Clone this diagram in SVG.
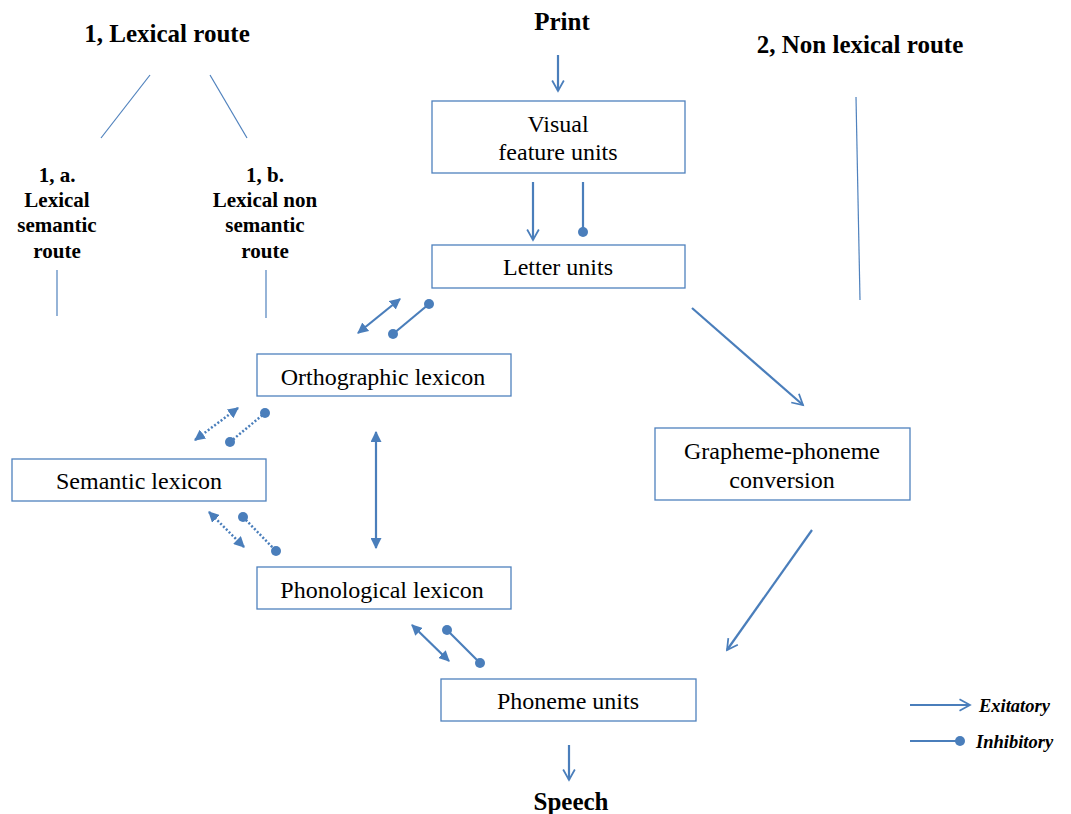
<svg xmlns="http://www.w3.org/2000/svg" width="1071" height="814" viewBox="0 0 1071 814" font-family="'Times New Roman', 'Liberation Serif', 'DejaVu Serif', serif">
<style>
text{font-family:'Times New Roman','Liberation Serif','DejaVu Serif',serif}
.box{fill:#fff;stroke:#4F81BD;stroke-width:1.3}
.t{font-size:24px;fill:#000;text-anchor:middle}
.h{font-size:25px;font-weight:bold;fill:#000;text-anchor:middle}
.s{font-size:21px;font-weight:bold;fill:#000;text-anchor:middle}
.lg{font-size:18.5px;font-weight:bold;font-style:italic;fill:#000}
.thin{stroke:#4F81BD;stroke-width:1.2;fill:none}
.c{stroke:#4A7EBB;stroke-width:2.2;fill:none}
.d{stroke:#4A7EBB;stroke-width:2.5;fill:none;stroke-dasharray:2 2}
.dot{fill:#4A7EBB}
</style>
<defs>
<marker id="big" viewBox="0 0 12 12" refX="10" refY="6" markerWidth="14" markerHeight="14" markerUnits="userSpaceOnUse" orient="auto-start-reverse">
<path d="M1,1 L10,6 L1,11" fill="none" stroke="#4A7EBB" stroke-width="1.5"/>
</marker>
<marker id="tri" viewBox="0 0 10 10" refX="9" refY="5" markerWidth="11" markerHeight="11" markerUnits="userSpaceOnUse" orient="auto-start-reverse">
<path d="M0,0 L10,5 L0,10 Z" fill="#4A7EBB"/>
</marker>
</defs>

<g id="labels">
<text class="h" x="167" y="42">1, Lexical route</text>
<text class="h" x="562" y="30">Print</text>
<text class="h" x="860" y="53">2, Non lexical route</text>
<text class="s" x="57" y="182">1, a.</text>
<text class="s" x="57" y="207">Lexical</text>
<text class="s" x="57" y="232">semantic</text>
<text class="s" x="57" y="258">route</text>
<text class="s" x="265" y="182">1, b.</text>
<text class="s" x="265" y="207">Lexical non</text>
<text class="s" x="265" y="232">semantic</text>
<text class="s" x="265" y="258">route</text>
<text class="h" x="571" y="810">Speech</text>
</g>

<g id="visual"><rect class="box" x="432" y="101" width="253" height="72"/><text class="t" x="558" y="132">Visual</text><text class="t" x="558" y="160">feature units</text></g>
<g id="letter"><rect class="box" x="432" y="245" width="253" height="43"/><text class="t" x="558" y="275">Letter units</text></g>
<g id="ortho"><rect class="box" x="257" y="354" width="254" height="42"/><text class="t" x="383" y="385">Orthographic lexicon</text></g>
<g id="semantic"><rect class="box" x="12" y="459" width="254" height="42"/><text class="t" x="139" y="489">Semantic lexicon</text></g>
<g id="phono"><rect class="box" x="257" y="567" width="254" height="42"/><text class="t" x="382" y="598">Phonological lexicon</text></g>
<g id="gpc"><rect class="box" x="655" y="428" width="255" height="72"/><text class="t" x="782" y="459">Grapheme-phoneme</text><text class="t" x="782" y="488">conversion</text></g>
<g id="phoneme"><rect class="box" x="441" y="679" width="255" height="42"/><text class="t" x="568" y="709">Phoneme units</text></g>

<g id="connectors">
<line class="thin" x1="150" y1="75" x2="101" y2="138"/>
<line class="thin" x1="210" y1="75" x2="247" y2="138"/>
<line class="thin" x1="57" y1="270" x2="57" y2="316"/>
<line class="thin" x1="266" y1="270" x2="266" y2="318"/>
<line class="thin" x1="856" y1="97" x2="860" y2="300"/>

<line class="c" x1="558" y1="55" x2="558" y2="91" marker-end="url(#big)"/>
<line class="c" x1="533" y1="182" x2="533" y2="240" marker-end="url(#big)"/>
<line class="c" x1="583" y1="182" x2="583" y2="232"/><circle class="dot" cx="583" cy="232" r="5"/>

<line class="c" x1="358" y1="333" x2="400" y2="299" marker-start="url(#tri)" marker-end="url(#tri)"/>
<line class="c" x1="393" y1="334" x2="429" y2="304"/><circle class="dot" cx="393" cy="334" r="5"/><circle class="dot" cx="429" cy="304" r="5"/>

<line class="d" x1="195" y1="440" x2="238" y2="408" marker-start="url(#tri)" marker-end="url(#tri)"/>
<line class="d" x1="230" y1="442" x2="265" y2="413"/><circle class="dot" cx="230" cy="442" r="5"/><circle class="dot" cx="265" cy="413" r="5"/>

<line class="d" x1="209" y1="512" x2="244" y2="547" marker-start="url(#tri)" marker-end="url(#tri)"/>
<line class="d" x1="243" y1="517" x2="276" y2="551"/><circle class="dot" cx="243" cy="517" r="5"/><circle class="dot" cx="276" cy="551" r="5"/>

<line class="c" x1="376" y1="432" x2="376" y2="548" marker-start="url(#tri)" marker-end="url(#tri)"/>

<line class="c" x1="412" y1="625" x2="449" y2="661" marker-start="url(#tri)" marker-end="url(#tri)"/>
<line class="c" x1="447" y1="630" x2="480" y2="663"/><circle class="dot" cx="447" cy="630" r="5"/><circle class="dot" cx="480" cy="663" r="5"/>

<line class="c" x1="692" y1="308" x2="803" y2="405" marker-end="url(#big)"/>
<line class="c" x1="812" y1="530" x2="727" y2="650" marker-end="url(#big)"/>
<line class="c" x1="569" y1="745" x2="569" y2="780" marker-end="url(#big)"/>
</g>

<g id="legend">
<line class="c" x1="910" y1="705" x2="970" y2="705" marker-end="url(#big)"/>
<text class="lg" x="979" y="712">Exitatory</text>
<line class="c" x1="910" y1="741" x2="960" y2="741"/><circle class="dot" cx="960" cy="741" r="5"/>
<text class="lg" x="976" y="748">Inhibitory</text>
</g>
</svg>
